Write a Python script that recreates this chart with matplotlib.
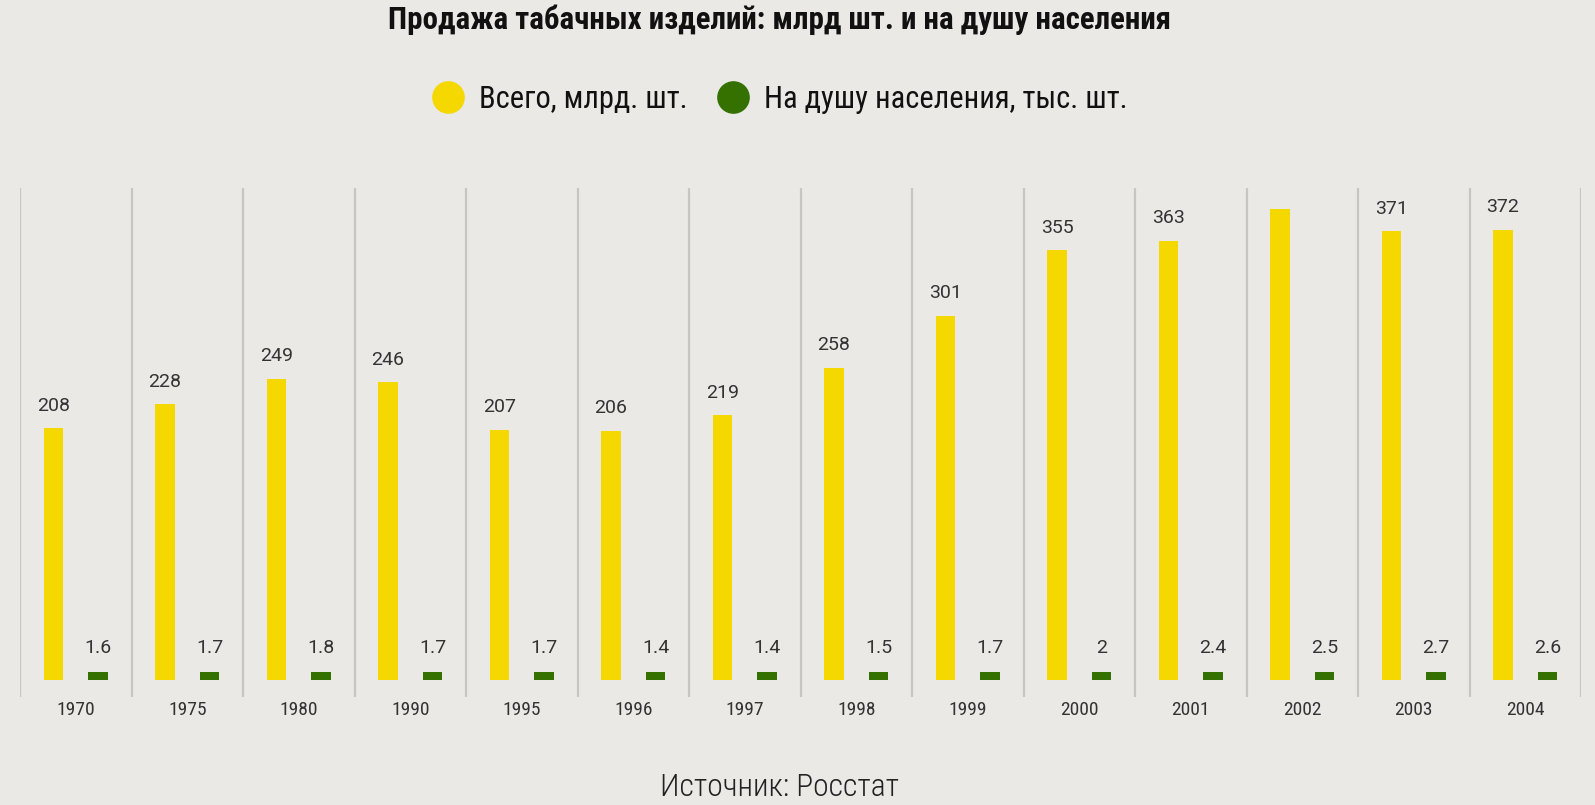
import numpy as np
import matplotlib
matplotlib.use("Agg")
from matplotlib import pyplot as plt
from matplotlib.lines import Line2D

years = ["1970", "1975", "1980", "1990", "1995", "1996", "1997",
         "1998", "1999", "2000", "2001", "2002", "2003", "2004"]
total = [208, 228, 249, 246, 207, 206, 219, 258, 301, 355, 363, 389, 371, 372]
per_capita = [1.6, 1.7, 1.8, 1.7, 1.7, 1.4, 1.4, 1.5, 1.7, 2, 2.4, 2.5, 2.7, 2.6]

BG = "#eae9e5"
YELLOW = "#f5d800"
GREEN = "#347100"
TXT = "#333333"
COND = ["Roboto Condensed", "DejaVu Sans"]

fig = plt.figure(figsize=(15.95, 8.05), dpi=100, facecolor=BG)
ax = fig.add_axes([20 / 1595, 108 / 805, 1561 / 1595, 509 / 805])
ax.set_facecolor(BG)

y_bot, y_top = -14.05, 406.6
ax.set_xlim(-0.5, len(years) - 0.5)
ax.set_ylim(y_bot, y_top)

x = np.arange(len(years))
w = 0.175
off = 0.2
min_h = 6.6  # tiny values still get a visible stub, like the original
green_h = np.maximum(per_capita, min_h)

ax.bar(x - off, total, w, color=YELLOW, zorder=2)
ax.bar(x + off, green_h, w, color=GREEN, zorder=2)

lab_off = 18.5
for i, v in enumerate(total):
    # label of the tallest bar does not fit under the top edge, the original drops it
    if v + lab_off < y_top - 2:
        ax.text(x[i] - off, v + lab_off, str(v), ha="center", va="center",
                fontsize=14, color=TXT, family="Roboto")
for i, v in enumerate(per_capita):
    ax.text(x[i] + off, green_h[i] + 19.6, ("%g" % v), ha="center", va="center",
            fontsize=14, color=TXT, family="Roboto")

for b in np.arange(len(years) + 1) - 0.5:
    ax.axvline(b, color="#c6c6c4", lw=1.6, zorder=1)

for s in ax.spines.values():
    s.set_visible(False)
ax.set_yticks([])
ax.set_xticks(x)
ax.set_xticklabels(years, fontsize=14, color=TXT, family=COND)
ax.tick_params(axis="x", length=0, pad=3)

fig.text(0.489, 1 - 20 / 805, "Продажа табачных изделий: млрд шт. и на душу населения",
         ha="center", va="center", fontsize=22.3, fontweight="bold", family=COND, color="#111111")

handles = [Line2D([], [], ls="none", marker="o", markersize=22.5, color=YELLOW),
           Line2D([], [], ls="none", marker="o", markersize=22.5, color=GREEN)]
fig.legend(handles, ["Всего, млрд. шт.", "На душу населения, тыс. шт."],
           loc="center", bbox_to_anchor=(0.489, 1 - 99 / 805), ncol=2, frameon=False,
           prop={"family": COND, "size": 22}, handletextpad=0.5, columnspacing=1.0,
           handlelength=1.0, labelcolor="#111111")

fig.text(0.489, 1 - 787 / 805, "Источник: Росстат", ha="center", va="center",
         fontsize=22.8, family=COND, fontweight="light", color="#222222")

fig.savefig("out.png", dpi=100, facecolor=BG)
